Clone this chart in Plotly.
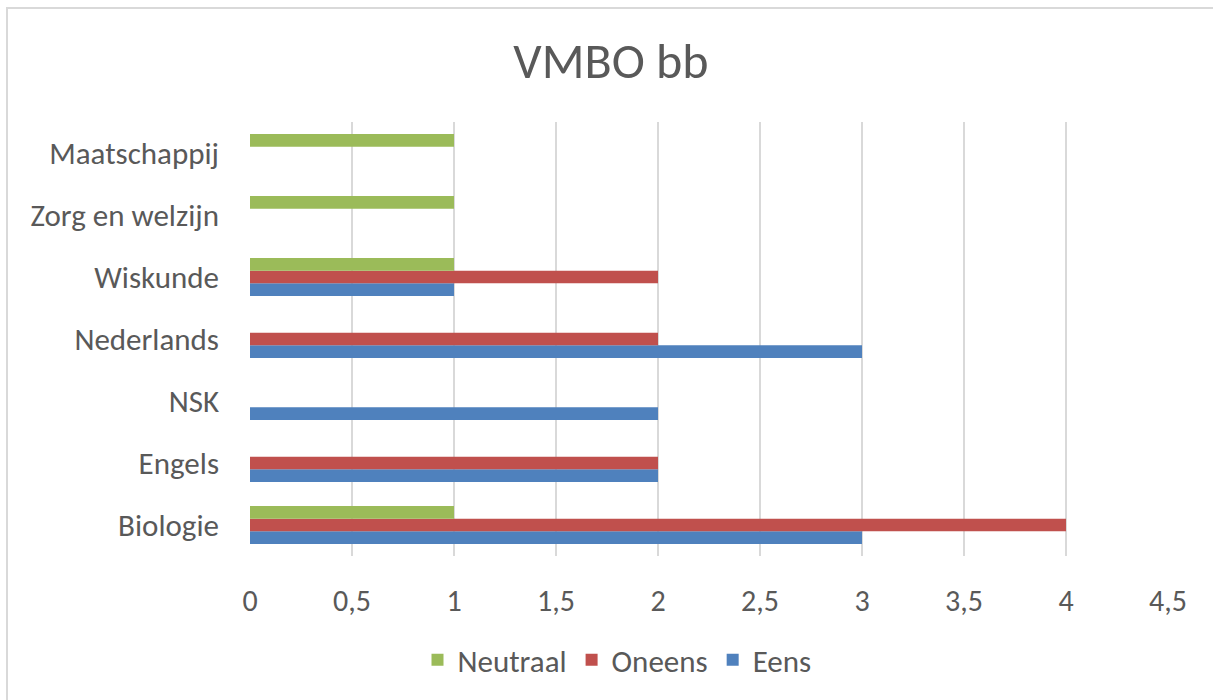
import plotly.graph_objects as go

# Data
vakken = ["Biologie", "Engels", "NSK", "Nederlands", "Wiskunde", "Zorg en welzijn", "Maatschappij"]
eens = [3, 2, 2, 3, 1, 0, 0]
oneens = [4, 2, 0, 2, 2, 0, 0]
neutraal = [1, 0, 0, 0, 1, 1, 1]
x_ticks = [0, 0.5, 1, 1.5, 2, 2.5, 3, 3.5, 4, 4.5]

FONT = "Carlito, Calibri, Lato, sans-serif"
TEXT = "#595959"

fig = go.Figure()

series = [
    ("Eens", eens, "#4F81BD"),
    ("Oneens", oneens, "#C0504D"),
    ("Neutraal", neutraal, "#9BBB59"),
]
for name, vals, color in series:
    fig.add_trace(
        go.Bar(
            y=vakken,
            x=vals,
            name=name,
            orientation="h",
            marker=dict(color=color, line=dict(width=0)),
        )
    )

# Chart border (Excel chart area outline), right and bottom edges fall outside the image
fig.add_shape(
    type="rect",
    xref="paper", yref="paper",
    x0=(7 - 250) / 918, x1=1.1,
    y0=-0.4, y1=(556 - 8) / 434,
    line=dict(color="#D9D9D9", width=2),
    fillcolor="rgba(0,0,0,0)",
    layer="below",
)

fig.update_layout(
    width=1213,
    height=700,
    paper_bgcolor="white",
    plot_bgcolor="white",
    separators=",.",
    barmode="group",
    bargap=0.39,
    bargroupgap=0,
    font=dict(family=FONT, color=TEXT, size=31),
    title=dict(
        text="VMBO bb",
        font=dict(family=FONT, size=50, color=TEXT),
        x=611 / 1213,
        xanchor="center",
        y=1 - 60 / 700,
        yanchor="middle",
    ),
    xaxis=dict(
        range=[0, 4.5],
        tickvals=x_ticks,
        showgrid=True,
        gridcolor="#D9D9D9",
        gridwidth=1.5,
        zeroline=False,
        showline=False,
        ticks="",
        ticklabelstandoff=24,
        tickfont=dict(size=30, color=TEXT),
    ),
    yaxis=dict(
        showgrid=False,
        zeroline=False,
        showline=False,
        ticks="",
        ticklabelstandoff=30,
        tickfont=dict(size=31, color=TEXT),
    ),
    legend=dict(
        orientation="h",
        traceorder="reversed",
        xref="container",
        x=617 / 1213,
        xanchor="center",
        yref="container",
        y=1 - 660 / 700,
        yanchor="middle",
        font=dict(size=31, color=TEXT),
        itemwidth=30,
    ),
    margin=dict(l=250, r=45, t=122, b=144),
    showlegend=True,
)

fig.write_html(
    "out.html",
    config={"displayModeBar": False},
    post_script="document.body.style.margin='0';",
)
